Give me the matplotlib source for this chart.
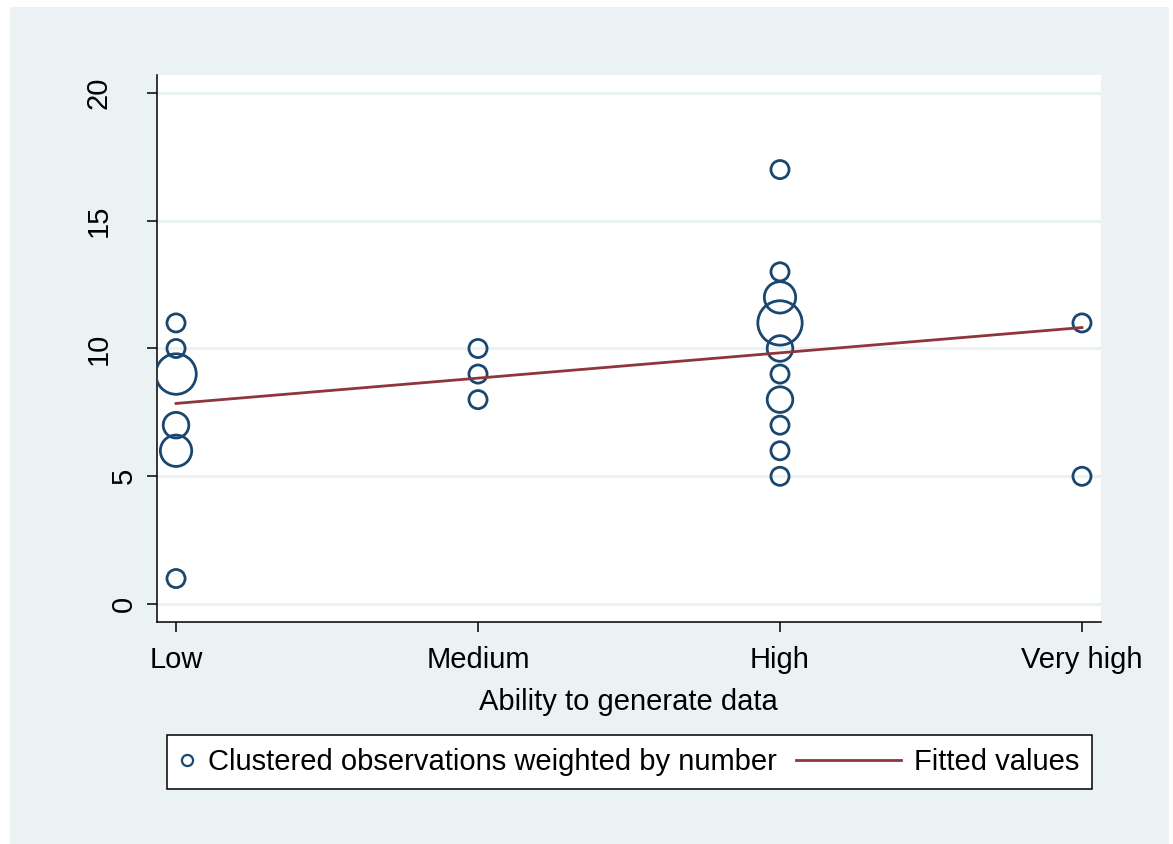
import numpy as np
import matplotlib
matplotlib.use("Agg")
import matplotlib.pyplot as plt
from matplotlib.patches import Rectangle
from matplotlib.lines import Line2D
from matplotlib.legend_handler import HandlerBase
from matplotlib.transforms import blended_transform_factory

plt.rcParams['font.family'] = ['Liberation Sans', 'DejaVu Sans']

# ---- data ----
categories = ["Low", "Medium", "High", "Very high"]
cat_pos = [1, 2, 3, 4]
obs_x = [1, 1, 1, 1, 1, 1,
         2, 2, 2,
         3, 3, 3, 3, 3, 3, 3, 3, 3, 3,
         4, 4]
obs_y = [11, 10, 9, 7, 6, 1,
         10, 9, 8,
         17, 13, 12, 11, 10, 9, 8, 7, 6, 5,
         11, 5]
obs_n = [1, 1, 5, 2, 3, 1,
         1, 1, 1,
         1, 1, 3, 6, 2, 1, 2, 1, 1, 1,
         1, 1]
y_ticks = [0, 5, 10, 15, 20]
x_label = "Ability to generate data"
legend_labels = ["Clustered observations weighted by number", "Fitted values"]

NAVY = "#1a476f"
MAROON = "#90353b"
BG = "#eaf2f3"

W, H = 1173, 844
fig = plt.figure(figsize=(W / 100, H / 100), dpi=100, facecolor="white")
fig.patches.append(Rectangle((10 / W, 0), (1169 - 10) / W, (H - 7) / H,
                             transform=fig.transFigure, facecolor=BG,
                             edgecolor="none", zorder=-10))

ax_left, ax_right = 157, 1100.7
ax = fig.add_axes([ax_left / W, (H - 622) / H, (ax_right - ax_left) / W, (622 - 75) / H])
ax.set_facecolor("white")

ax.scatter(obs_x, obs_y, s=[170 * n for n in obs_n], facecolors="none",
           edgecolors=NAVY, linewidths=2.0, zorder=3)

# weighted linear fit (frequency weights)
xa = np.array(obs_x, float)
ya = np.array(obs_y, float)
wa = np.array(obs_n, float)
b, a = np.polyfit(xa, ya, 1, w=np.sqrt(wa))
fx = np.array([min(cat_pos), max(cat_pos)], float)
ax.plot(fx, a + b * fx, color=MAROON, lw=2.0, zorder=4)

ax.set_xlim(0.937, 4.062)
ax.set_ylim(-0.70, 20.70)
ax.set_xticks(cat_pos)
ax.set_xticklabels(categories)
ax.set_yticks(y_ticks)
ax.set_yticklabels([])

for s in ["top", "right"]:
    ax.spines[s].set_visible(False)
for s in ["left", "bottom"]:
    ax.spines[s].set_linewidth(1.1)
    ax.spines[s].set_color("black")

ax.tick_params(axis="both", length=7.2, width=1.1, color="black",
               labelsize=21, labelcolor="black")
ax.tick_params(axis="x", pad=10)
ax.yaxis.grid(True, color=BG, lw=2.2)
ax.set_axisbelow(True)
ax.set_xlabel(x_label, fontsize=21, labelpad=10)

# rotated y tick labels (Stata-style placement)
ytrans = blended_transform_factory(ax.transAxes, ax.transData)
for t in y_ticks:
    lab = str(t)
    xc_px = 124 if len(lab) == 1 else 99
    xa_ax = (xc_px - ax_left) / (ax_right - ax_left)
    ax.text(xa_ax, t, lab, transform=ytrans, rotation=90, ha="center",
            va="center", fontsize=21, color="black", clip_on=False)


class LongLineHandler(HandlerBase):
    def __init__(self, length_pt, **kw):
        super().__init__(**kw)
        self.length_pt = length_pt

    def create_artists(self, legend, orig_handle, xdescent, ydescent,
                       width, height, fontsize, trans):
        y = (height - ydescent) / 2
        x1 = -xdescent + width
        x0 = x1 - self.length_pt
        ln = Line2D([x0, x1], [y, y], color=orig_handle.get_color(),
                    lw=orig_handle.get_linewidth())
        ln.set_transform(trans)
        return [ln]


h_marker = Line2D([], [], ls="none", marker="o", markersize=8,
                  markerfacecolor="none", markeredgecolor=NAVY,
                  markeredgewidth=1.6)
h_line = Line2D([], [], color=MAROON, lw=2.0)

leg = fig.legend([h_marker, h_line], legend_labels,
                 loc="upper center", bbox_to_anchor=(629.5 / W, 1 - 735 / H),
                 ncol=2, fontsize=21, frameon=True, fancybox=False,
                 edgecolor="black", facecolor="white", framealpha=1,
                 borderpad=0.45, handlelength=0.5, handletextpad=0.45,
                 columnspacing=3.75, borderaxespad=0,
                 handler_map={h_line: LongLineHandler(75.6)})
leg.get_frame().set_linewidth(1.1)

fig.savefig("out.png", dpi=100, facecolor="white")
